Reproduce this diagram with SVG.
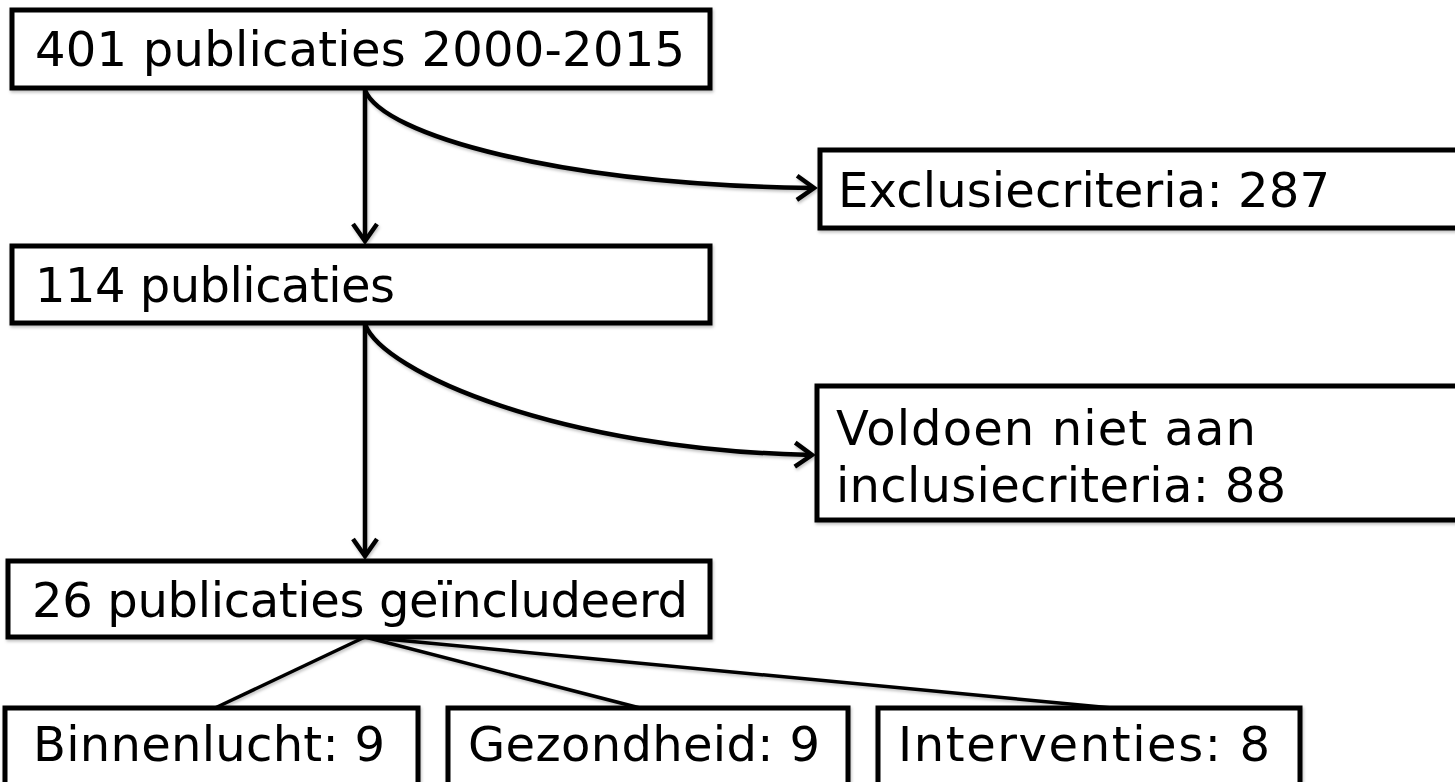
<svg xmlns="http://www.w3.org/2000/svg" width="1455" height="782" viewBox="0 0 1455 782">
  <style>
    .box { fill: #ffffff; stroke: #000000; stroke-width: 5; }
    .lbl { font-family: "DejaVu Sans", Verdana, sans-serif; font-size: 48px; fill: #000000; }
    .conn { fill: none; stroke: #000000; stroke-width: 4.5; }
    .thin { fill: none; stroke: #000000; stroke-width: 3.5; }
  </style>
  <defs>
    <marker id="arrow" markerUnits="userSpaceOnUse" markerWidth="26" markerHeight="32" viewBox="-22 -16 26 32" refX="0" refY="0" orient="auto">
      <path d="M-17,-12 L0,0 L-17,12" fill="none" stroke="#000" stroke-width="4.5" stroke-linejoin="miter"/>
    </marker>
    <filter id="sh" x="-10%" y="-10%" width="120%" height="130%">
      <feDropShadow dx="1" dy="2" stdDeviation="1.5" flood-color="#000" flood-opacity="0.25"/>
    </filter>
  </defs>

  <g id="connectors" filter="url(#sh)">
    <path class="conn" d="M365,90 L365,241" marker-end="url(#arrow)"/>
    <path class="conn" d="M365,90 C382,135 560,185 814,188" marker-end="url(#arrow)"/>
    <path class="conn" d="M365,324 L365,556" marker-end="url(#arrow)"/>
    <path class="conn" d="M365,324 C382,372 560,450 812,455" marker-end="url(#arrow)"/>
    <path class="thin" d="M365,637 L215,708"/>
    <path class="thin" d="M365,637 L640,708"/>
    <path class="thin" d="M365,637 L1112,708"/>
  </g>

  <g id="n401" filter="url(#sh)">
    <rect class="box" x="12" y="10" width="698" height="78"/>
    <text class="lbl" x="35" y="66" textLength="650">401 publicaties 2000-2015</text>
  </g>
  <g id="nExcl" filter="url(#sh)">
    <rect class="box" x="820" y="150" width="660" height="78"/>
    <text class="lbl" x="838" y="207" textLength="492">Exclusiecriteria: 287</text>
  </g>
  <g id="n114" filter="url(#sh)">
    <rect class="box" x="12" y="246" width="698" height="77"/>
    <text class="lbl" x="35" y="302" textLength="360">114 publicaties</text>
  </g>
  <g id="nVoldoen" filter="url(#sh)">
    <rect class="box" x="817" y="386" width="660" height="134"/>
    <text class="lbl" x="836" y="445" textLength="420">Voldoen niet aan</text>
    <text class="lbl" x="836" y="502" textLength="450">inclusiecriteria: 88</text>
  </g>
  <g id="n26" filter="url(#sh)">
    <rect class="box" x="8" y="561" width="702" height="76"/>
    <text class="lbl" x="32" y="617" textLength="656">26 publicaties geïncludeerd</text>
  </g>
  <g id="nBinnen" filter="url(#sh)">
    <rect class="box" x="5" y="708" width="413" height="100"/>
    <text class="lbl" x="33" y="761" textLength="352">Binnenlucht: 9</text>
  </g>
  <g id="nGezond" filter="url(#sh)">
    <rect class="box" x="448" y="708" width="400" height="100"/>
    <text class="lbl" x="468" y="761" textLength="352">Gezondheid: 9</text>
  </g>
  <g id="nInterv" filter="url(#sh)">
    <rect class="box" x="878" y="708" width="422" height="100"/>
    <text class="lbl" x="898" y="761" textLength="372">Interventies: 8</text>
  </g>
</svg>
